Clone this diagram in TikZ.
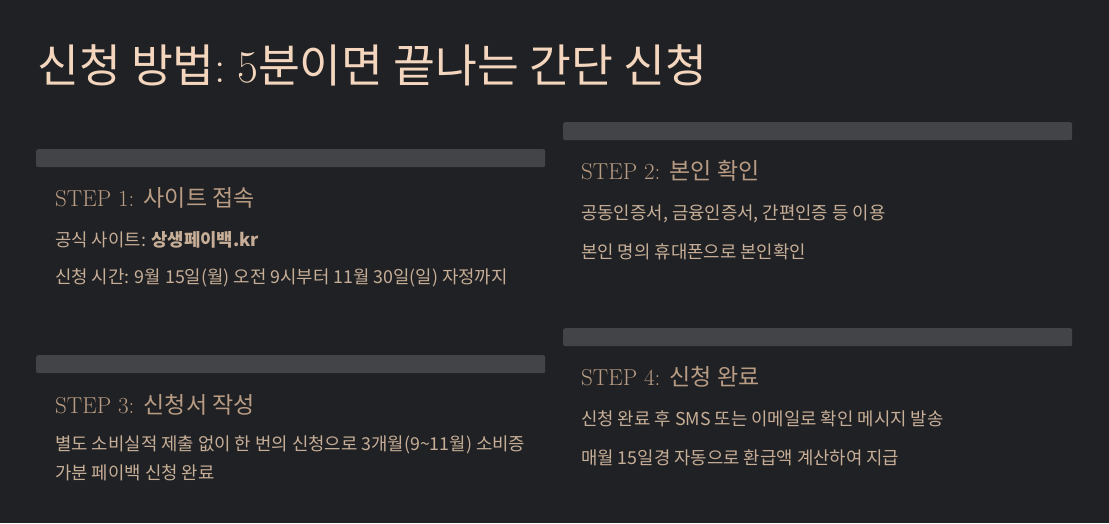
\documentclass[tikz,border=0pt]{standalone}
\usepackage{fontspec}
\usepackage{tikz}
\usetikzlibrary{positioning}
\newfontfamily\kr{Noto Sans CJK KR}
\definecolor{bgcol}{HTML}{202124}
\definecolor{barcol}{HTML}{434448}
\definecolor{titlecol}{HTML}{F3D6BD}
\definecolor{headcol}{HTML}{B99C84}
\definecolor{bodycol}{HTML}{C7AE97}

\begin{document}
\begin{tikzpicture}[x=1pt, y=-1pt,
  bar/.style={fill=barcol, rounded corners=2pt, inner sep=0pt, anchor=north west,
    minimum width=509pt, minimum height=18pt},
  head/.style={anchor=base west, inner sep=0pt, text=headcol,
    font=\fontsize{23}{27}\selectfont},
  body/.style={anchor=base west, inner sep=0pt, text=bodycol, align=left,
    font=\kr\fontsize{17.8}{29}\selectfont}]
\fill[bgcol] (0,0) rectangle (1109,523);
\useasboundingbox (0,0) rectangle (1109,523);

\node[anchor=base west, inner sep=0pt, text=titlecol, font=\fontsize{45.5}{52}\selectfont]
  (title) at (37,82) {{\kr 신청 방법}:\kern11pt 5{\kr 분이면 끝나는 간단 신청}};

% left column
\node[bar] (bar1) at (36,149) {};
\node[head] (step1) at (55,206) {STEP 1: {\kr 사이트 접속}};
\node[body] (site) at (55,246) {공식 사이트: \textbf{상생페이백.kr}};
\node[body] (time) at (55,283) {신청 시간: 9월 15일(월) 오전 9시부터 11월 30일(일) 자정까지};

\node[bar] (bar3) at (36,355) {};
\node[head] (step3) at (55,413) {STEP 3: {\kr 신청서 작성}};
\node[body] (form) at (55,479) {별도 소비실적 제출 없이 한 번의 신청으로 3개월(9\char"007E 11월) 소비증\\
  가분 페이백 신청 완료};

% right column
\node[bar] (bar2) at (563,122) {};
\node[head] (step2) at (581,179) {STEP 2: {\kr 본인 확인}};
\node[body] (cert) at (581,219) {공동인증서, 금융인증서, 간편인증 등 이용};
\node[body] (phone) at (581,258) {본인 명의 휴대폰으로 본인확인};

\node[bar] (bar4) at (563,328) {};
\node[head] (step4) at (581,385) {STEP 4: {\kr 신청 완료}};
\node[body] (sms) at (581,425) {신청 완료 후 SMS 또는 이메일로 확인 메시지 발송};
\node[body] (pay) at (581,464) {매월 15일경 자동으로 환급액 계산하여 지급};
\end{tikzpicture}
\end{document}
